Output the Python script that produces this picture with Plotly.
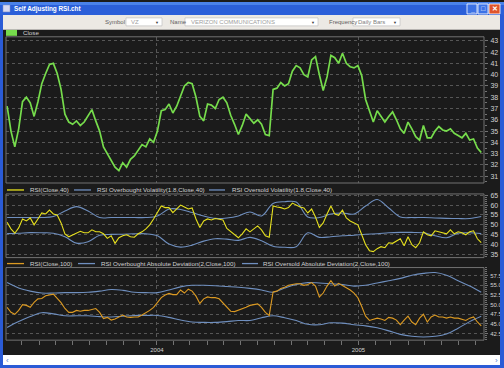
import plotly.graph_objects as go
import pandas as pd

W, H = 504, 368

# ---------------- data (weekly readings, starting 2003-04-04) ----------------
close = [37.2, 35.0, 33.6, 35.2, 37.6, 38.0, 37.5, 36.3, 37.6, 39.2,
         40.1, 40.9, 41.0, 40.1, 38.7, 36.5, 35.8, 35.6, 35.9, 35.5,
         35.8, 36.3, 36.9, 35.9, 35.0, 33.6, 33.0, 32.3, 31.8, 31.5,
         32.2, 31.8, 32.5, 32.8, 33.3, 33.8, 33.6, 34.3, 34.0, 35.0,
         36.8, 36.9, 37.4, 36.6, 37.2, 38.2, 39.0, 39.3, 39.2, 38.0,
         36.3, 35.9, 37.4, 37.3, 37.0, 37.8, 38.0, 37.5, 36.4, 35.6,
         34.7, 35.5, 36.5, 36.1, 35.7, 36.0, 35.6, 34.7, 34.6, 38.7,
         38.8, 39.3, 39.0, 39.2, 40.3, 40.8, 40.6, 40.0, 39.8, 41.3,
         41.6, 40.0, 38.6, 39.8, 41.7, 41.5, 41.0, 41.9, 41.0, 40.7,
         40.6, 40.8, 39.9, 37.8, 36.8, 35.8, 36.8, 36.3, 35.8, 36.3,
         36.7, 36.0, 35.2, 34.8, 35.8, 35.2, 34.5, 34.2, 35.5, 34.4,
         34.4, 35.0, 35.4, 35.1, 35.0, 35.2, 34.8, 34.6, 34.4, 34.8,
         34.2, 34.3, 33.5, 33.1]

rsi40 = [51.3, 48.0, 45.8, 48.5, 53.0, 52.0, 53.5, 50.0, 53.0, 56.0,
         55.5, 57.5, 55.5, 55.0, 51.0, 45.5, 44.0, 45.0, 46.2, 46.8,
         46.0, 46.0, 47.5, 46.5, 46.5, 45.5, 43.2, 44.5, 40.7, 43.5,
         44.5, 45.0, 44.0, 43.8, 45.5, 46.5, 48.0, 50.0, 53.0, 56.0,
         59.5, 58.7, 58.7, 56.2, 58.2, 60.0, 59.0, 58.0, 58.5, 53.0,
         48.7, 52.0, 53.0, 52.5, 53.2, 53.0, 52.5, 48.2, 46.5, 45.0,
         43.5, 45.5, 48.0, 46.5, 48.0, 49.5, 47.5, 44.5, 43.8, 59.5,
         59.0, 58.7, 58.0, 58.7, 61.0, 60.0, 59.0, 58.5, 56.0, 58.0,
         54.0, 48.7, 51.0, 55.5, 59.5, 55.5, 54.8, 57.5, 53.5, 52.0,
         51.0, 50.0, 45.0, 40.0, 37.0, 36.5, 38.0, 39.0, 38.5, 41.0,
         40.7, 42.0, 43.0, 39.5, 44.0, 40.0, 38.5, 41.0, 46.5, 45.0,
         44.5, 47.0, 46.5, 46.0, 45.5, 47.5, 45.5, 46.5, 46.0, 45.0,
         46.5, 47.0, 43.0, 41.0]

rsi100 = [49.3, 48.0, 47.5, 48.5, 50.0, 49.8, 49.3, 50.6, 51.5, 51.6,
          52.3, 52.6, 52.7, 51.6, 50.5, 49.0, 48.0, 48.0, 48.5, 48.3,
          48.5, 48.5, 48.8, 49.0, 48.0, 46.4, 46.7, 46.0, 46.3, 46.7,
          47.3, 46.8, 46.7, 46.8, 46.8, 47.3, 47.8, 48.5, 49.3, 50.5,
          51.8, 52.5, 52.9, 52.6, 52.6, 53.8, 53.0, 54.0, 53.5, 52.2,
          50.3, 51.5, 52.0, 51.8, 51.8, 51.5, 50.5, 49.3, 48.3, 48.2,
          48.5, 49.0, 49.3, 49.8, 50.0, 50.2, 49.3, 48.0, 47.2, 53.3,
          53.5, 54.2, 54.5, 55.0, 55.2, 55.4, 55.4, 55.0, 55.2, 55.7,
          54.8, 52.0, 53.0, 54.8, 56.2, 54.8, 55.5, 55.0, 54.5, 53.8,
          53.0, 51.8, 49.5, 47.0, 45.9, 46.3, 46.5, 46.3, 45.9, 46.7,
          46.5, 46.0, 44.8, 46.0, 47.0, 45.5, 44.8, 46.5, 47.5, 45.5,
          46.8, 47.3, 46.8, 46.8, 46.5, 46.8, 46.5, 46.5, 46.2, 45.9,
          46.5, 46.8, 45.5, 44.5]

# bands, read every third week
ob_vol = [53.7, 53.7, 53.7, 53.7, 54.2, 57.0, 59.2, 57.0, 53.7, 53.7,
          53.7, 53.7, 53.7, 54.5, 58.0, 57.8, 56.2, 54.5, 53.3, 53.5,
          54.5, 56.5, 54.5, 60.8, 61.7, 61.5, 54.0, 53.7, 55.5, 56.0,
          55.5, 59.5, 62.8, 58.5, 54.0, 53.7, 53.7, 53.5, 53.3, 53.2,
          53.2, 54.2]
os_vol = [45.6, 45.8, 46.1, 46.0, 45.8, 44.0, 40.8, 41.5, 44.8, 45.2,
          45.3, 45.5, 45.5, 44.5, 40.3, 38.8, 39.8, 41.8, 43.0, 42.8,
          42.2, 43.7, 42.0, 39.2, 38.7, 39.0, 46.0, 43.7, 44.0, 44.5,
          44.8, 45.3, 45.5, 46.0, 46.2, 46.2, 46.0, 44.5, 43.5, 45.8,
          46.0, 45.6]
ob_ad = [55.7, 54.3, 53.5, 53.0, 53.0, 53.1, 53.1, 53.2, 53.5, 53.9,
         53.7, 53.2, 53.1, 53.1, 53.8, 54.6, 55.0, 55.0, 54.9, 54.7,
         54.5, 54.2, 53.8, 53.2, 54.3, 55.2, 55.7, 55.6, 55.4, 55.2,
         54.8, 55.0, 55.6, 56.2, 56.8, 57.6, 58.1, 58.3, 57.6, 56.2,
         54.8, 53.2]
os_ad = [44.1, 45.6, 46.9, 47.9, 47.6, 47.1, 47.1, 47.1, 46.9, 46.8,
         47.0, 47.2, 47.2, 47.2, 46.7, 46.0, 45.5, 45.4, 45.4, 45.6,
         45.9, 45.9, 46.6, 47.1, 46.6, 45.9, 44.9, 44.8, 45.3, 45.2,
         44.8, 44.5, 44.0, 43.2, 42.3, 41.8, 41.6, 41.8, 42.4, 43.9,
         45.6, 47.0]

year_ticks = ["2004-01-01", "2005-01-01"]
year_labels = ["2004", "2005"]

dates = pd.date_range("2003-04-04", periods=len(close), freq="7D")
band_dates = dates[::3]
month_ticks = pd.date_range("2003-04-01", "2005-08-01", freq="MS")

# ---------------- styling ----------------
BG = "#1b1b1b"
GRID = "#565656"
BORDER = "#727272"
TXT = "#d2d2d2"
GREEN = "#76dc4c"
YELLOW = "#e6e01e"
BLUE = "#6f8fbf"
ORANGE = "#dc9a22"
FONT = "Liberation Sans"


def px(x):
    return x / W


def py(y):
    return 1 - y / H


XL, XR = 6, 484
P1, P2, P3 = (35, 182), (193, 257), (267, 340)

fig = go.Figure()
fig.add_trace(go.Scatter(x=dates, y=close, mode="lines", line=dict(color=GREEN, width=1.7),
                         xaxis="x", yaxis="y", showlegend=False))
fig.add_trace(go.Scatter(x=band_dates, y=ob_vol, mode="lines", line=dict(color=BLUE, width=1.1, shape="spline"),
                         xaxis="x2", yaxis="y2", showlegend=False))
fig.add_trace(go.Scatter(x=band_dates, y=os_vol, mode="lines", line=dict(color=BLUE, width=1.1, shape="spline"),
                         xaxis="x2", yaxis="y2", showlegend=False))
fig.add_trace(go.Scatter(x=dates, y=rsi40, mode="lines", line=dict(color=YELLOW, width=1.1),
                         xaxis="x2", yaxis="y2", showlegend=False))
fig.add_trace(go.Scatter(x=band_dates, y=ob_ad, mode="lines", line=dict(color=BLUE, width=1.1, shape="spline"),
                         xaxis="x3", yaxis="y3", showlegend=False))
fig.add_trace(go.Scatter(x=band_dates, y=os_ad, mode="lines", line=dict(color=BLUE, width=1.1, shape="spline"),
                         xaxis="x3", yaxis="y3", showlegend=False))
fig.add_trace(go.Scatter(x=dates, y=rsi100, mode="lines", line=dict(color=ORANGE, width=1.1),
                         xaxis="x3", yaxis="y3", showlegend=False))

tickfont = dict(family=FONT, size=7, color=TXT)
tickfont_small = dict(family=FONT, size=6, color=TXT)
xcommon = dict(range=["2003-04-02", "2005-08-17"], domain=[px(XL), px(XR)],
               tickmode="array", tickvals=year_ticks, showgrid=True, gridcolor=GRID,
               griddash="dot", gridwidth=1, zeroline=False, showline=False)


def yax(dom, rng, dtick, tick0, minor_dt, anchor, fmt=None, font=tickfont):
    d = dict(domain=[py(dom[1]), py(dom[0])], range=rng, side="right", anchor=anchor,
             dtick=dtick, tick0=tick0, showgrid=True, gridcolor=GRID, griddash="dot",
             gridwidth=1, zeroline=False, showline=False, ticks="outside", ticklen=3,
             tickcolor=BORDER, tickfont=font, ticklabelstandoff=1,
             minor=dict(dtick=minor_dt, tick0=tick0, ticks="outside", ticklen=2,
                        tickcolor=BORDER, showgrid=False))
    if fmt:
        d["tickformat"] = fmt
    return d


layout = dict(
    width=W, height=H, margin=dict(l=0, r=0, t=0, b=0),
    paper_bgcolor=BG, plot_bgcolor=BG, showlegend=False,
    xaxis=dict(**xcommon, anchor="y", showticklabels=False, ticks=""),
    xaxis2=dict(**xcommon, anchor="y2", matches="x", showticklabels=False, ticks=""),
    xaxis3=dict(**xcommon, anchor="y3", matches="x", ticktext=year_labels, ticks="outside",
                ticklen=4, tickcolor=BORDER, tickfont=tickfont_small,
                minor=dict(tickmode="array", tickvals=list(month_ticks), ticks="outside",
                           ticklen=4, tickcolor=BORDER, showgrid=False)),
    yaxis=yax(P1, [30.4, 43.35], 1, 31, 0.5, "x"),
    yaxis2=yax(P2, [33.5, 65.6], 5, 35, 1, "x2"),
    yaxis3=yax(P3, [40.8, 59.6], 2.5, 42.5, 0.5, "x3", ".1f", tickfont_small),
)
fig.update_layout(**layout)

shapes = []
annotations = []


def rect(x0, y0, x1, y1, fill, line=None, lw=0, layer="above"):
    shapes.append(dict(type="rect", xref="paper", yref="paper", x0=px(x0), x1=px(x1),
                       y0=py(y1), y1=py(y0), fillcolor=fill,
                       line=dict(color=line or fill, width=lw), layer=layer))


def hline(x0, x1, y, color, width=1.3):
    shapes.append(dict(type="line", xref="paper", yref="paper", x0=px(x0), x1=px(x1),
                       y0=py(y), y1=py(y), line=dict(color=color, width=width)))


def text(x, y, s, size=6.2, color=TXT, anchor="left", bold=False):
    if bold:
        s = "<b>" + s + "</b>"
    annotations.append(dict(x=px(x), y=py(y), xref="paper", yref="paper", text=s,
                            showarrow=False, xanchor=anchor, yanchor="middle",
                            font=dict(family=FONT, size=size, color=color)))


# panel borders
for (t, b) in (P1, P2, P3):
    shapes.append(dict(type="rect", xref="paper", yref="paper", x0=px(XL), x1=px(XR),
                       y0=py(b), y1=py(t), line=dict(color=BORDER, width=1),
                       fillcolor="rgba(0,0,0,0)", layer="above"))

# legends
rect(6, 28, 17, 34, GREEN)
text(21, 31, "Close")
hline(7, 24, 189, YELLOW)
text(28, 189, "RSI(Close,40)")
hline(74, 91, 189, BLUE)
text(95, 189, "RSI Overbought Volatility(1.8,Close,40)")
hline(209, 225, 189, BLUE)
text(230, 189, "RSI Oversold Volatility(1.8,Close,40)")
hline(7, 24, 263, ORANGE)
text(28, 263, "RSI(Close,100)")
hline(78, 95, 263, BLUE)
text(99, 263, "RSI Overbought Absolute Deviation(2,Close,100)")
hline(242, 258, 263, BLUE)
text(261, 263, "RSI Oversold Absolute Deviation(2,Close,100)")

# window chrome: borders
rect(0, 0, 3, 368, "#2a5bd6")
rect(500, 0, 504, 368, "#2a5bd6")
rect(0, 365, 504, 368, "#2a5bd6")
# title bar
rect(0, 0, 504, 13, "#2b5fd9")
rect(0, 0, 504, 3, "#4a82ea")
rect(3, 3, 10, 10, "#d8d8f0", "#8090c0", 0.5)
text(12, 7, "Self Adjusting RSI.cht", size=6.4, color="white", bold=True)
rect(467, 2, 477, 12, "#3c72e6", "white", 0.8)
rect(478, 2, 488, 12, "#3c72e6", "white", 0.8)
rect(489, 2, 500, 12, "#e0552c", "white", 0.8)
text(472, 8, "_", size=7, color="white", anchor="center", bold=True)
text(483, 7, "□", size=7, color="white", anchor="center", bold=True)
text(494.5, 7, "✕", size=7, color="white", anchor="center", bold=True)
# toolbar
rect(3, 13, 500, 28, "#ece9e4")
text(103, 20, "Symbol", size=6, color="#606060")
rect(126, 16, 162, 24, "#ffffff", "#b8b8b8", 0.6)
text(129, 20, "VZ", size=6, color="#a0a0a0")
text(157, 20.5, "▼", size=4, color="#404040", anchor="center")
text(168, 20, "Name", size=6, color="#606060")
rect(185, 16, 318, 24, "#ffffff", "#b8b8b8", 0.6)
text(189, 20, "VERIZON COMMUNICATIONS", size=6, color="#a0a0a0")
text(313, 20.5, "▼", size=4, color="#404040", anchor="center")
text(327, 20, "Frequency", size=6, color="#606060")
rect(353, 16, 400, 24, "#ffffff", "#b8b8b8", 0.6)
text(356, 20, "Daily Bars", size=6, color="#808080")
text(395, 20.5, "▼", size=4, color="#404040", anchor="center")
# bottom scroll area
rect(3, 355, 500, 365, "#ffffff")
text(7, 360, "‹", size=8, color="#5b7fd0", anchor="center")
text(496, 360, "›", size=8, color="#5b7fd0", anchor="center")

fig.update_layout(shapes=shapes, annotations=annotations)
fig.write_html("out.html", config={"displayModeBar": False},
               post_script="document.body.style.margin='0';document.body.style.overflow='hidden';")
